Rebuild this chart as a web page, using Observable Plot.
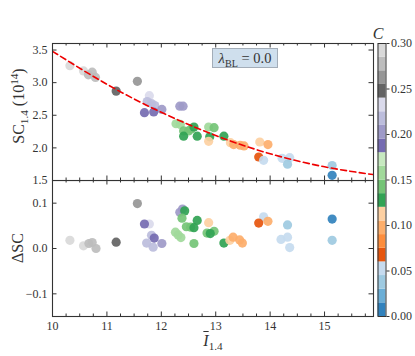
<!DOCTYPE html>
<html><head><meta charset="utf-8">
<script src="https://cdn.jsdelivr.net/npm/d3@7"></script>
<script src="https://cdn.jsdelivr.net/npm/@observablehq/plot@0.6"></script>
<style>
body{margin:0;background:#fff;}
#chart{position:relative;width:415px;height:356px;font-family:"Liberation Serif",serif;color:#333;overflow:hidden;}
#chart svg{position:absolute;background:none;}
.lbl{position:absolute;white-space:nowrap;font-size:16px;line-height:1;transform:translate(-50%,-50%);}
.rot{transform:translate(-50%,-50%) rotate(-90deg);}
sub,sup{font-size:70%;line-height:0;}
.box{position:absolute;left:212px;top:48px;width:64px;height:18px;background:#cfdfed;border:1px solid #a3adb8;font-size:14.5px;line-height:18px;text-align:center;}
</style></head><body><div id="chart"></div>
<script>
// ---- data ----
const topX=[10.32,10.57,10.66,10.73,10.79,11.17,11.56,11.78,11.74,11.82,11.88,12.01,11.69,11.86,12.34,12.40,12.27,12.35,12.41,12.50,12.55,12.60,12.41,12.66,12.87,12.97,12.89,13.15,12.87,13.27,13.33,13.45,13.52,13.81,13.96,13.79,13.88,14.22,14.36,14.32,15.14,15.14];
const topY=[3.26,3.18,3.12,3.16,3.08,2.87,3.02,2.80,2.71,2.68,2.65,2.59,2.54,2.55,2.64,2.64,2.37,2.36,2.26,2.26,2.29,2.32,2.18,2.18,2.32,2.31,2.17,2.18,2.10,2.08,2.05,2.04,2.03,2.09,2.05,1.86,1.81,1.84,1.85,1.75,1.73,1.58];
const topC=[0.29,0.29,0.27,0.27,0.27,0.245,0.255,0.232,0.215,0.215,0.215,0.20,0.185,0.185,0.20,0.20,0.155,0.155,0.14,0.14,0.14,0.125,0.125,0.125,0.155,0.14,0.125,0.125,0.11,0.11,0.095,0.095,0.095,0.11,0.095,0.065,0.05,0.05,0.05,0.035,0.035,0.005];
const botX=[10.32,10.57,10.67,10.73,10.80,11.17,11.56,11.78,11.69,11.82,11.73,11.85,12.01,11.87,12.34,12.39,12.43,12.38,12.46,12.54,12.66,12.60,12.26,12.31,12.36,12.60,12.87,12.84,12.97,12.90,13.15,13.26,13.32,13.44,13.49,13.88,13.96,13.79,14.32,14.20,14.32,14.36,15.14,15.14];
const botD=[0.018,0.006,0.011,0.013,0.000,0.014,0.099,0.054,0.054,0.029,0.012,0.003,0.011,0.023,0.080,0.087,0.083,0.067,0.048,0.047,0.062,0.046,0.036,0.030,0.024,0.011,0.057,0.034,0.038,0.033,0.012,0.018,0.025,0.019,0.012,0.070,0.060,0.056,0.052,0.020,0.025,0.002,0.065,0.018];
const botC=[0.29,0.29,0.27,0.27,0.27,0.245,0.255,0.232,0.185,0.215,0.215,0.215,0.20,0.185,0.20,0.20,0.125,0.14,0.14,0.14,0.125,0.125,0.155,0.155,0.155,0.14,0.11,0.14,0.14,0.125,0.125,0.11,0.095,0.095,0.095,0.05,0.095,0.065,0.035,0.05,0.05,0.05,0.005,0.035];
const fitX=[10,11,12,13,14,15,15.9];
const fitY=[3.48,2.975,2.545,2.19,1.91,1.71,1.59];
const xMajor=[10,11,12,13,14,15];
const topYTicks=[1.5,2.0,2.5,3.0,3.5];
const botYTicks=[-0.1,0,0.1];
const cTicks=[0,0.05,0.10,0.15,0.20,0.25,0.30];
const tab20c=["#3182bd","#6baed6","#9ecae1","#c6dbef","#e6550d","#fd8d3c","#fdae6b","#fdd0a2","#31a354","#74c476","#a1d99b","#c7e9c0","#756bb1","#9e9ac8","#bcbddc","#dadaeb","#636363","#969696","#bdbdbd","#d9d9d9"];

// ---- scales / config ----
const thr=d3.range(1,20).map(i=>+(i*0.015).toFixed(3));
const colorOpt={type:"threshold",domain:thr,range:tab20c};
const xMinor=d3.range(10,15.9,0.25).filter(v=>!xMajor.includes(v));
const INK="#333";
const FONT='"Liberation Serif",serif';
const W=380, ML=52, MR=7, PW=W-ML-MR;
const TT=43, TB=180, BB=316;
const TH=TB-TT, BH=BB-TB;

function frameTicks(yTicks, ph){
  return [
    Plot.ruleX(xMajor,{stroke:INK,insetTop:ph-4.5}),
    Plot.ruleX(xMajor,{stroke:INK,insetBottom:ph-4.5}),
    Plot.ruleX(xMinor,{stroke:INK,insetTop:ph-2.5}),
    Plot.ruleX(xMinor,{stroke:INK,insetBottom:ph-2.5}),
    Plot.ruleY(yTicks,{stroke:INK,insetRight:PW-4.5}),
    Plot.ruleY(yTicks,{stroke:INK,insetLeft:PW-4.5}),
    Plot.frame({stroke:INK,strokeWidth:1.1})
  ];
}

const chart=document.getElementById("chart");

const topPlot=Plot.plot({
  width:W,height:TB+12,marginLeft:ML,marginRight:MR,marginTop:TT,marginBottom:12,
  x:{domain:[10,15.9],axis:null},
  y:{domain:[1.5,3.6]},
  color:colorOpt,
  style:{fontFamily:FONT,fontSize:"12px",color:INK,background:"none"},
  marks:[
    Plot.dot(topX,{x:topX,y:topY,fill:topC,r:4.6,fillOpacity:0.92}),
    Plot.line(fitX,{x:fitX,y:fitY,stroke:"#ee0000",strokeWidth:1.6,strokeDasharray:"6,3.5",curve:"natural",clip:true}),
    ...frameTicks(topYTicks,TH),
    Plot.axisY({ticks:topYTicks,tickSize:0,tickPadding:5,tickFormat:d3.format(".1f"),label:null,fontSize:12})
  ]
});
topPlot.style.left="0px";topPlot.style.top="0px";
chart.appendChild(topPlot);

const botPlot=Plot.plot({
  width:W,height:356-TB,marginLeft:ML,marginRight:MR,marginTop:0,marginBottom:356-BB,
  x:{domain:[10,15.9]},
  y:{domain:[-0.15,0.15]},
  color:colorOpt,
  style:{fontFamily:FONT,fontSize:"12px",color:INK,background:"none"},
  marks:[
    Plot.dot(botX,{x:botX,y:botD,fill:botC,r:4.6,fillOpacity:0.92}),
    ...frameTicks(botYTicks,BH),
    Plot.axisY({ticks:botYTicks,tickSize:0,tickPadding:5,tickFormat:d3.format(".1f"),label:null,fontSize:12}),
    Plot.axisX({ticks:xMajor,tickSize:0,tickPadding:5,tickFormat:d=>String(d),label:null,fontSize:12})
  ]
});
botPlot.style.left="0px";botPlot.style.top=TB+"px";
chart.appendChild(botPlot);

const bins=tab20c.map((c,i)=>({lo:i*0.015,hi:(i+1)*0.015,mid:i*0.015+0.0075}));
const cbPlot=Plot.plot({
  width:45,height:356,marginLeft:7.5,marginRight:29.5,marginTop:TT,marginBottom:356-BB,
  x:{domain:[0,1],axis:null},
  y:{domain:[0,0.3]},
  color:colorOpt,
  style:{fontFamily:FONT,fontSize:"12px",color:INK,background:"none"},
  marks:[
    Plot.rect(bins,{x1:0,x2:1,y1:"lo",y2:"hi",fill:"mid"}),
    Plot.frame({stroke:INK,strokeWidth:1}),
    Plot.axisY({anchor:"right",ticks:cTicks,tickSize:3,tickPadding:2,tickFormat:d3.format(".2f"),label:null,fontSize:12})
  ]
});
cbPlot.style.left="370px";cbPlot.style.top="0px";
chart.appendChild(cbPlot);

// ---- text overlays ----
function addLabel(html,x,y,cls){
  const d=document.createElement("div");
  d.className="lbl"+(cls?" "+cls:"");
  d.style.left=x+"px";d.style.top=y+"px";
  d.innerHTML=html;chart.appendChild(d);
}
addLabel('SC<sub>1.4</sub> (10<sup>14</sup>)',19,106,"rot");
addLabel('ΔSC',18,248,"rot");
addLabel('<i><span style="text-decoration:overline">I</span></i><sub>1.4</sub>',213,341);
addLabel('<i>C</i>',378,34);
const box=document.createElement("div");box.className="box";
box.innerHTML='<i>λ</i><sub>BL</sub> = 0.0';chart.appendChild(box);
</script>
</body></html>
